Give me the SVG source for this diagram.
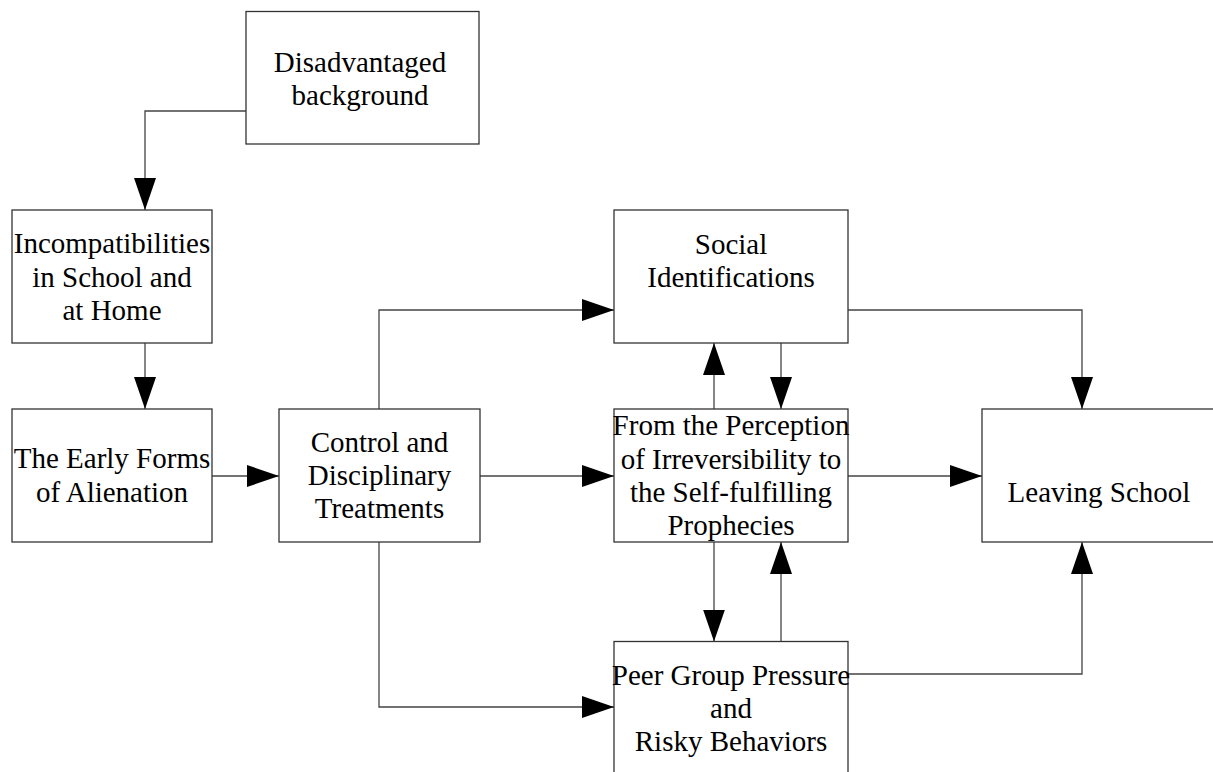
<svg xmlns="http://www.w3.org/2000/svg" width="1213" height="772" viewBox="0 0 1213 772">
  <defs>
    <style>
      .box { fill: #ffffff; stroke: #333333; stroke-width: 1.3; }
      .lbl { font-family: "Liberation Serif", "Times New Roman", serif; font-size: 29px; fill: #000000; text-anchor: middle; }
      .conn { fill: none; stroke: #444444; stroke-width: 1.3; marker-end: url(#arrow); }
    </style>
    <marker id="arrow" markerUnits="userSpaceOnUse" markerWidth="32" markerHeight="22" refX="32" refY="11" orient="auto">
      <path d="M0,0 L32,11 L0,22 Z" fill="#000000"/>
    </marker>
  </defs>
  <rect width="1213" height="772" fill="#ffffff"/>

  <g id="connectors">
    <path class="conn" d="M246,111 H145 V210"/>
    <path class="conn" d="M145,343 V409"/>
    <path class="conn" d="M212,476 H279"/>
    <path class="conn" d="M379,409 V310 H614"/>
    <path class="conn" d="M480,476 H614"/>
    <path class="conn" d="M379,542 V707 H614"/>
    <path class="conn" d="M848,310 H1082 V409"/>
    <path class="conn" d="M714,409 V343"/>
    <path class="conn" d="M781,343 V409"/>
    <path class="conn" d="M714,542 V641.5"/>
    <path class="conn" d="M781,641.5 V542"/>
    <path class="conn" d="M848,476 H982"/>
    <path class="conn" d="M848,674 H1082 V542"/>
  </g>

  <g id="disadvantaged">
    <rect class="box" x="246" y="11.5" width="233" height="132.5"/>
    <text class="lbl" x="360" y="72">Disadvantaged</text>
    <text class="lbl" x="360" y="105">background</text>
  </g>

  <g id="incompatibilities">
    <rect class="box" x="12" y="210" width="200" height="133"/>
    <text class="lbl" x="112" y="253">Incompatibilities</text>
    <text class="lbl" x="112" y="287">in School and</text>
    <text class="lbl" x="112" y="320">at Home</text>
  </g>

  <g id="early-forms">
    <rect class="box" x="12" y="409" width="200" height="133"/>
    <text class="lbl" x="112" y="468">The Early Forms</text>
    <text class="lbl" x="112" y="501.5">of Alienation</text>
  </g>

  <g id="control">
    <rect class="box" x="279" y="409" width="201" height="133"/>
    <text class="lbl" x="379.5" y="452">Control and</text>
    <text class="lbl" x="379.5" y="485">Disciplinary</text>
    <text class="lbl" x="379.5" y="518">Treatments</text>
  </g>

  <g id="social">
    <rect class="box" x="614" y="210" width="234" height="133"/>
    <text class="lbl" x="731" y="254">Social</text>
    <text class="lbl" x="731" y="287">Identifications</text>
  </g>

  <g id="perception">
    <rect class="box" x="614" y="409" width="234" height="133"/>
    <text class="lbl" x="731" y="435">From the Perception</text>
    <text class="lbl" x="731" y="469">of Irreversibility to</text>
    <text class="lbl" x="731" y="502">the Self-fulfilling</text>
    <text class="lbl" x="731" y="535">Prophecies</text>
  </g>

  <g id="peer">
    <rect class="box" x="614" y="641.5" width="234" height="133"/>
    <text class="lbl" x="731" y="685">Peer Group Pressure</text>
    <text class="lbl" x="731" y="718">and</text>
    <text class="lbl" x="731" y="751">Risky Behaviors</text>
  </g>

  <g id="leaving">
    <rect class="box" x="982" y="409" width="234" height="133"/>
    <text class="lbl" x="1099" y="502">Leaving School</text>
  </g>
</svg>
